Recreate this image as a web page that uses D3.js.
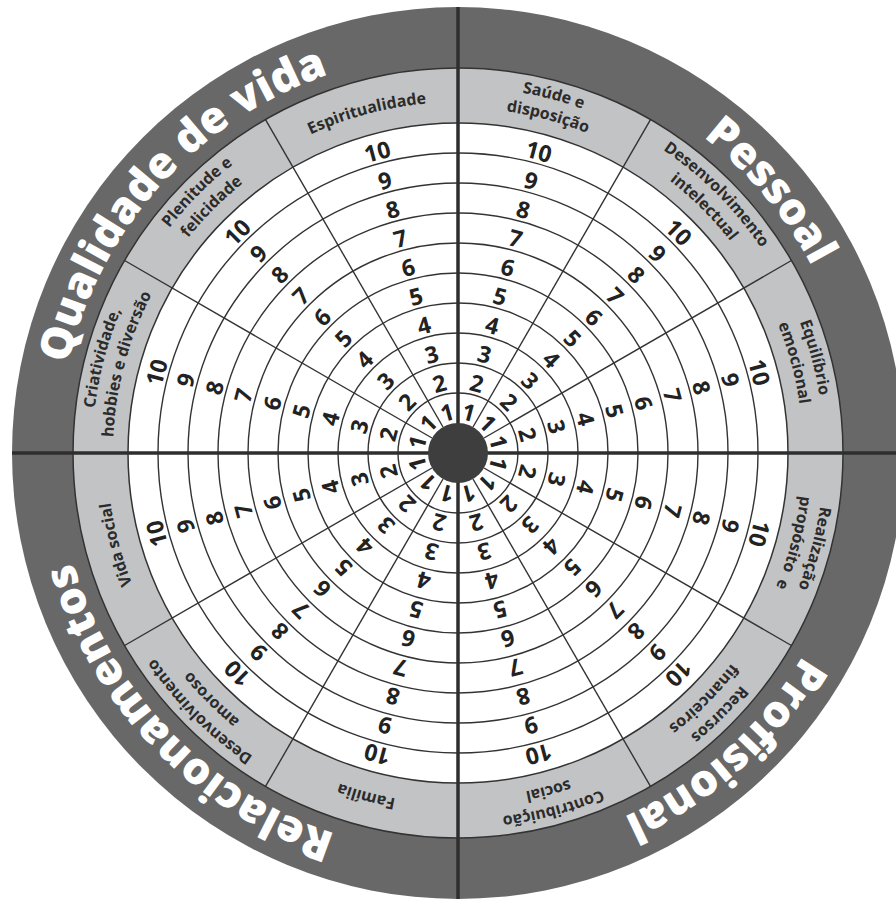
<!DOCTYPE html>
<html>
<head>
<meta charset="utf-8">
<script src="https://d3js.org/d3.v7.min.js"></script>
<style>
  body { margin: 0; background: #fff; }
  text { font-family: "Open Sans", sans-serif; font-weight: 700; }
  .num { font-size: 23px; fill: #222; }
  .area { font-size: 16px; fill: #2b2b2b; }
  .group { font-size: 44px; font-weight: 800; fill: #fff; }
</style>
</head>
<body>
<svg width="896" height="902"></svg>
<script>
// the four big groups, clockwise from the top
var groups = ["Pessoal", "Profisional", "Relacionamentos", "Qualidade de vida"];
var groupAngles = [50, 138, 226, 312];

// the twelve areas, clockwise from the top (one array per label line)
var areas = [
  ["Saúde e", "disposição"],
  ["Desenvolvimento", "intelectual"],
  ["Equilíbrio", "emocional"],
  ["Realização", "propósito  e"],
  ["Recursos", "financeiros"],
  ["Contribuição", "social"],
  ["Família"],
  ["Desenvolvimento", "amoroso"],
  ["Vida social"],
  ["Criatividade,", "hobbies e diversão"],
  ["Plenitude e", "felicidade"],
  ["Espiritualidade"]
];

var scores = [1, 2, 3, 4, 5, 6, 7, 8, 9, 10];

var svg = d3.select("svg"),
    cx = 458, cy = 453,
    rBand = 385, rOuter = 446,
    g = svg.append("g").attr("transform", "translate(" + cx + "," + cy + ")");

var r = d3.scaleLinear().domain([0, scores.length]).range([30, 330]);
var angle = d3.scaleLinear().domain([0, areas.length]).range([0, 360]);

function pt(a, rad) {
  var t = a * Math.PI / 180;
  return [rad * Math.sin(t), -rad * Math.cos(t)];
}

function arcPath(a0, a1, rad) {
  var p = d3.path();
  p.arc(0, 0, rad, (a0 - 90) * Math.PI / 180, (a1 - 90) * Math.PI / 180, false);
  return p.toString();
}

var defs = svg.append("defs");

// background bands
g.append("circle").attr("r", rOuter).attr("fill", "#686868");
g.append("circle").attr("r", rBand).attr("fill", "#c1c3c5")
    .attr("stroke", "#333").attr("stroke-width", 1.5);
g.append("circle").attr("r", r(10)).attr("fill", "#fff")
    .attr("stroke", "#333").attr("stroke-width", 1.5);

// score rings
g.selectAll(".ring")
    .data(scores.slice(0, -1))
  .enter().append("circle")
    .attr("class", "ring")
    .attr("r", function(d) { return r(d); })
    .attr("fill", "none")
    .attr("stroke", "#333")
    .attr("stroke-width", 1.4);

// thin spokes between areas
g.selectAll(".spoke")
    .data(d3.range(areas.length).filter(function(i) { return i % 3 != 0; }))
  .enter().append("line")
    .attr("class", "spoke")
    .attr("x1", function(i) { return pt(angle(i), r(0))[0]; })
    .attr("y1", function(i) { return pt(angle(i), r(0))[1]; })
    .attr("x2", function(i) { return pt(angle(i), rBand)[0]; })
    .attr("y2", function(i) { return pt(angle(i), rBand)[1]; })
    .attr("stroke", "#333")
    .attr("stroke-width", 1.4);

// thick cross between groups
g.selectAll(".cross")
    .data([0, 90])
  .enter().append("line")
    .attr("class", "cross")
    .attr("x1", function(a) { return pt(a, rOuter)[0]; })
    .attr("y1", function(a) { return pt(a, rOuter)[1]; })
    .attr("x2", function(a) { return pt(a + 180, rOuter)[0]; })
    .attr("y2", function(a) { return pt(a + 180, rOuter)[1]; })
    .attr("stroke", "#2e2e2e")
    .attr("stroke-width", 3.5);

g.append("circle").attr("r", r(0)).attr("fill", "#3e3e3e");

// score numbers
areas.forEach(function(area, i) {
  var mid = angle(i + 0.5);
  g.selectAll(".num-" + i)
      .data(scores)
    .enter().append("text")
      .attr("class", "num")
      .attr("text-anchor", "middle")
      .attr("dy", "0.36em")
      .attr("transform", function(s) {
        var p = pt(mid, (r(s - 1) + r(s)) / 2 - 3);
        return "translate(" + p[0] + "," + p[1] + ") rotate(" + mid + ")";
      })
      .text(function(s) { return s; });
});

// area labels in the light band
areas.forEach(function(lines, i) {
  lines.forEach(function(line, j) {
    var rad = lines.length == 1 ? 351 : (j == 0 ? 366 : 345);
    var id = "area-" + i + "-" + j;
    defs.append("path").attr("id", id).attr("d", arcPath(angle(i), angle(i + 1), rad));
    g.append("text")
        .attr("class", "area")
        .style("white-space", "pre")
      .append("textPath")
        .attr("href", "#" + id)
        .attr("startOffset", "50%")
        .attr("text-anchor", "middle")
        .text(line);
  });
});

// group labels in the dark band
groups.forEach(function(name, i) {
  var id = "group-" + i;
  defs.append("path").attr("id", id)
      .attr("d", arcPath(groupAngles[i] - 80, groupAngles[i] + 80, 400));
  g.append("text")
      .attr("class", "group")
    .append("textPath")
      .attr("href", "#" + id)
      .attr("startOffset", "50%")
      .attr("text-anchor", "middle")
      .text(name);
});
</script>
</body>
</html>
